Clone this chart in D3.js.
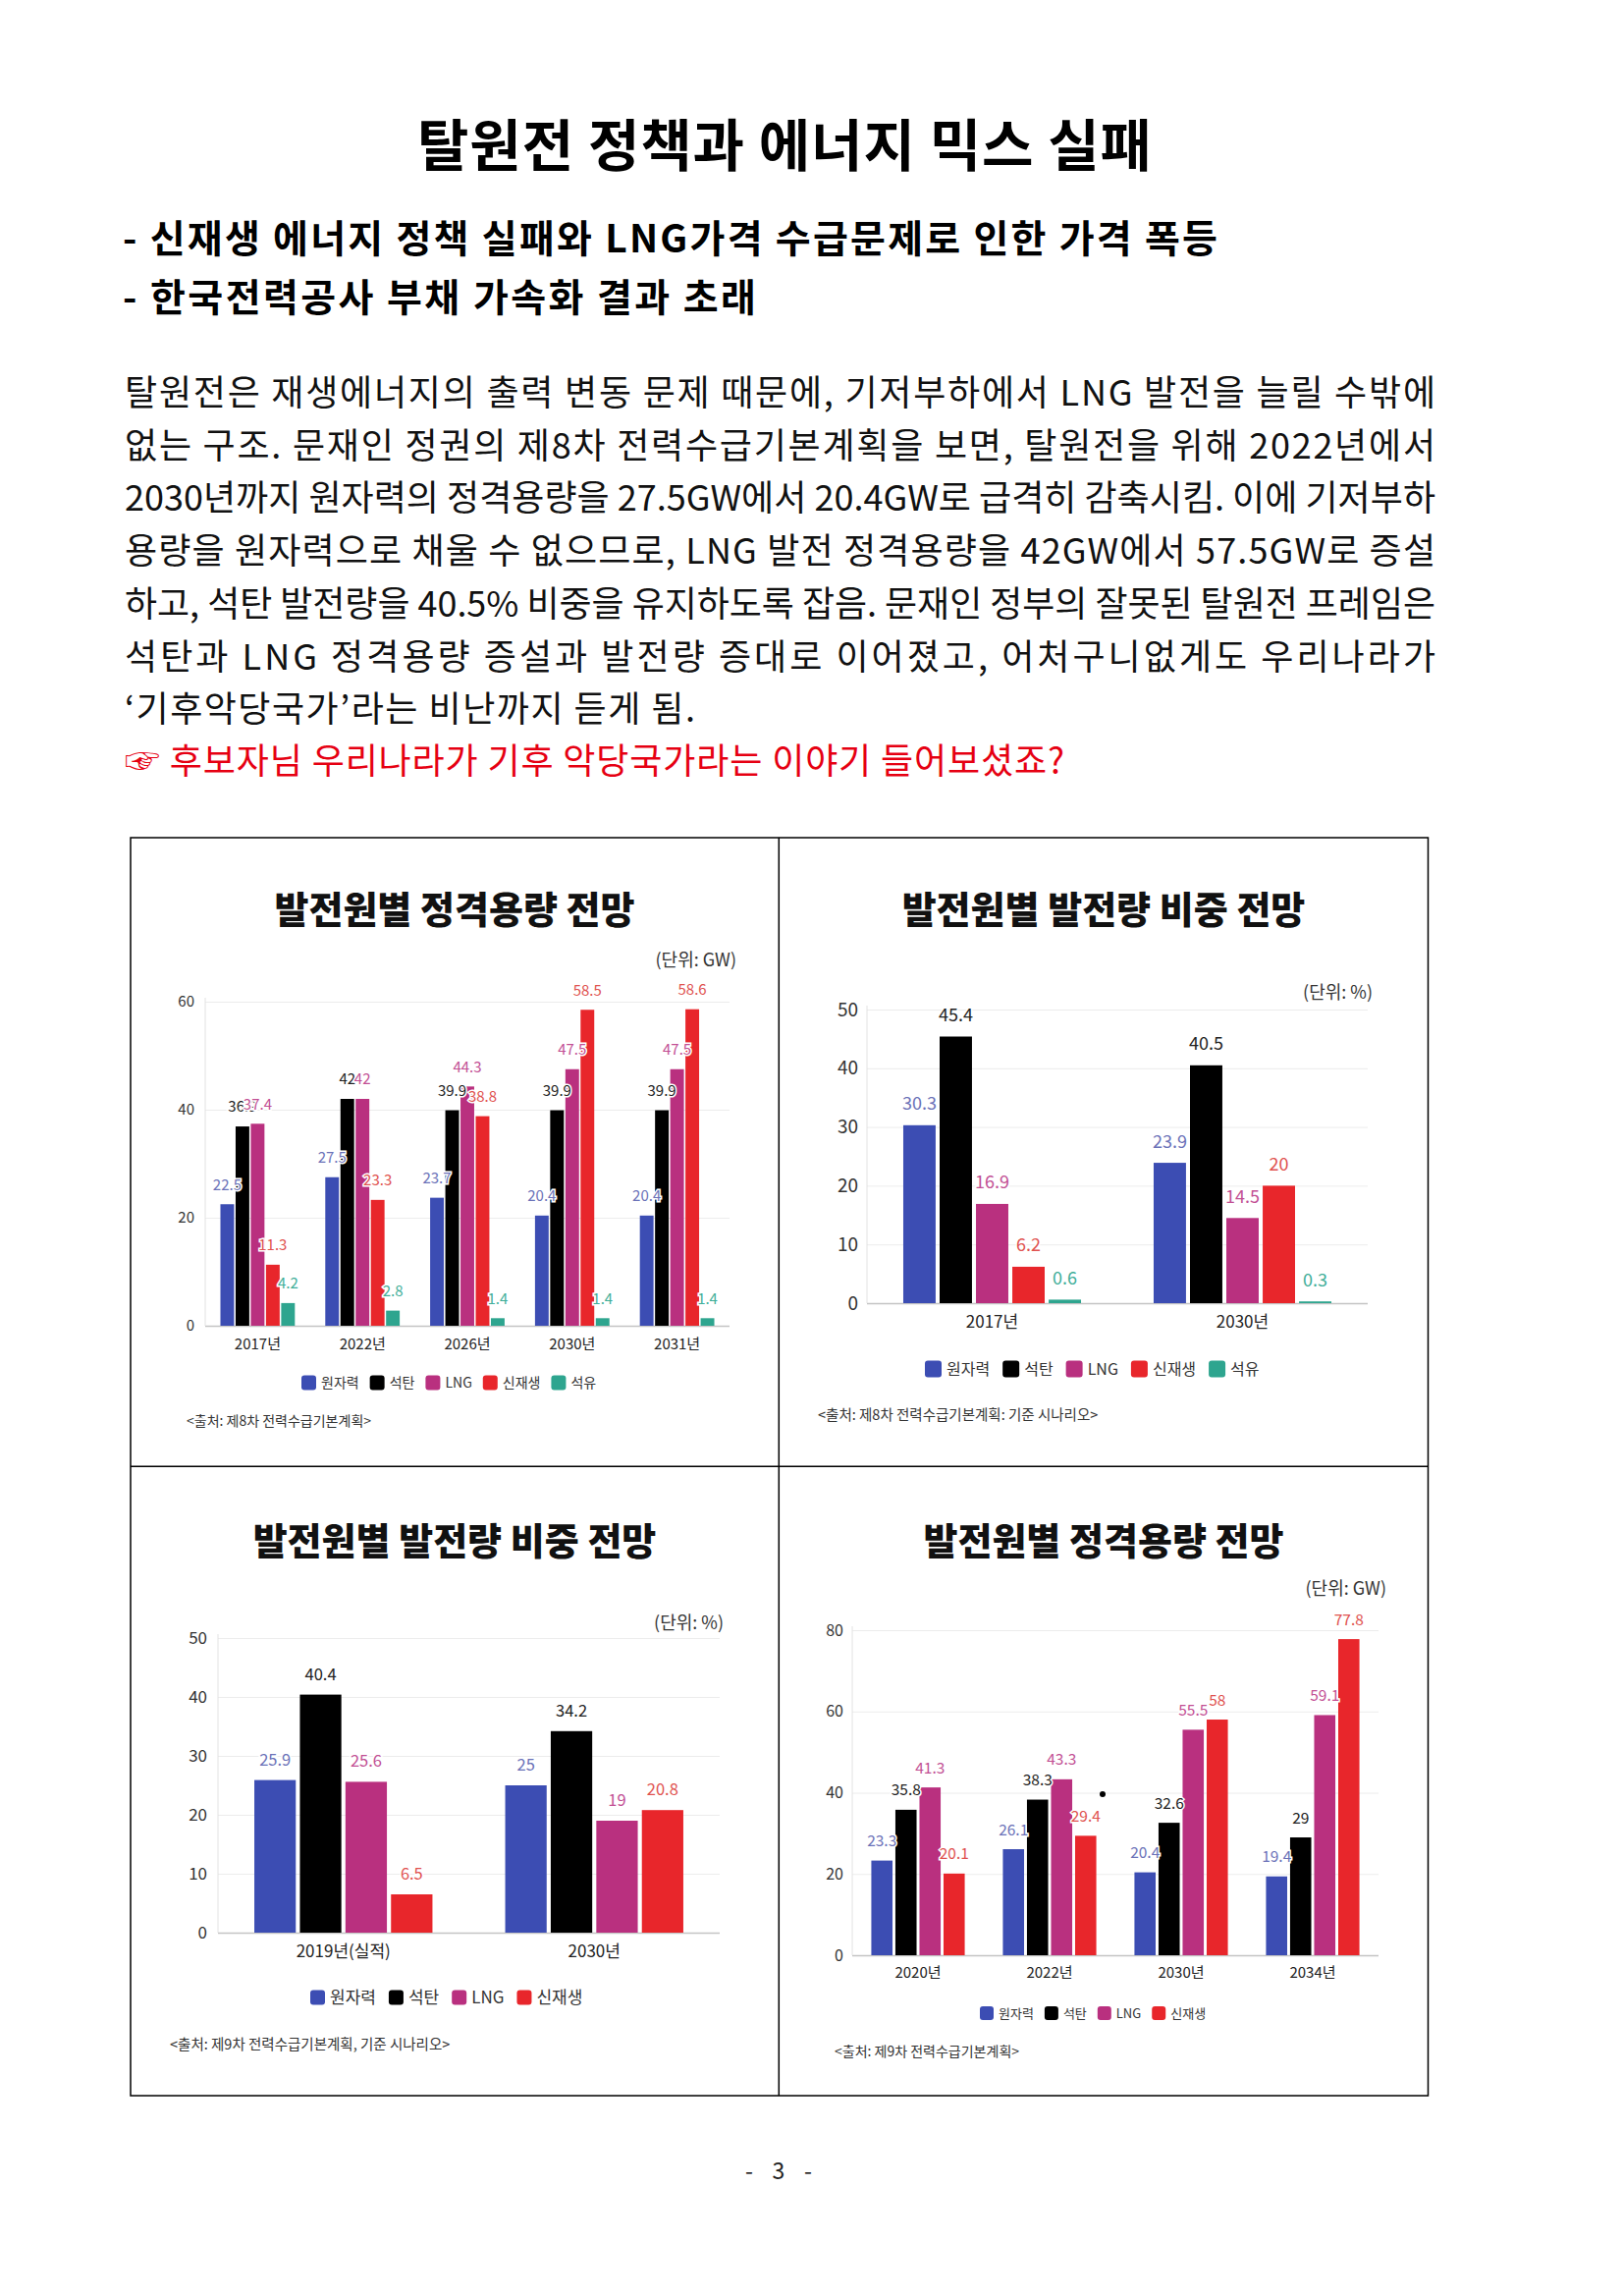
<!DOCTYPE html>
<html>
<head>
<meta charset="UTF-8">
<title>탈원전 정책과 에너지 믹스 실패</title>
<style>
  body { margin: 0; background: #fff; }
  svg text { font-family: "Noto Sans CJK KR", "Noto Sans", sans-serif; }
</style>
</head>
<body>
<script src="https://d3js.org/d3.v7.min.js"></script>
<script>
// ---- 데이터 ----
const series5 = ["원자력", "석탄", "LNG", "신재생", "석유"]
const series4 = ["원자력", "석탄", "LNG", "신재생"]

// 제8차 정격용량 (GW)
const capYears8 = ["2017년", "2022년", "2026년", "2030년", "2031년"]
const capNuke8 = [22.5, 27.5, 23.7, 20.4, 20.4]
const capCoal8 = [36.9, 42, 39.9, 39.9, 39.9]
const capLng8 = [37.4, 42, 44.3, 47.5, 47.5]
const capRenew8 = [11.3, 23.3, 38.8, 58.5, 58.6]
const capOil8 = [4.2, 2.8, 1.4, 1.4, 1.4]

// 제8차 발전량 비중 (%)
const genYears8 = ["2017년", "2030년"]
const genNuke8 = [30.3, 23.9]
const genCoal8 = [45.4, 40.5]
const genLng8 = [16.9, 14.5]
const genRenew8 = [6.2, 20]
const genOil8 = [0.6, 0.3]

// 제9차 발전량 비중 (%)
const genYears9 = ["2019년(실적)", "2030년"]
const genNuke9 = [25.9, 25]
const genCoal9 = [40.4, 34.2]
const genLng9 = [25.6, 19]
const genRenew9 = [6.5, 20.8]

// 제9차 정격용량 (GW)
const capYears9 = ["2020년", "2022년", "2030년", "2034년"]
const capNuke9 = [23.3, 26.1, 20.4, 19.4]
const capCoal9 = [35.8, 38.3, 32.6, 29]
const capLng9 = [41.3, 43.3, 55.5, 59.1]
const capRenew9 = [20.1, 29.4, 58, 77.8]

const barColors = ["#3c4db3", "#000000", "#b9307f", "#e8262b", "#2ea58f"]
const labelColors = ["#6b72b8", "#222222", "#c24f94", "#e0524f", "#3fae99"]

// 본문
const bodyLines = [
  "탈원전은 재생에너지의 출력 변동 문제 때문에, 기저부하에서 LNG 발전을 늘릴 수밖에",
  "없는 구조. 문재인 정권의 제8차 전력수급기본계획을 보면, 탈원전을 위해 2022년에서",
  "2030년까지 원자력의 정격용량을 27.5GW에서 20.4GW로 급격히 감축시킴. 이에 기저부하",
  "용량을 원자력으로 채울 수 없으므로, LNG 발전 정격용량을 42GW에서 57.5GW로 증설",
  "하고, 석탄 발전량을 40.5% 비중을 유지하도록 잡음. 문재인 정부의 잘못된 탈원전 프레임은",
  "석탄과 LNG 정격용량 증설과 발전량 증대로 이어졌고, 어처구니없게도 우리나라가",
  "‘기후악당국가’라는 비난까지 듣게 됨."
]
const redLine = "☞ 후보자님 우리나라가 기후 악당국가라는 이야기 들어보셨죠?"

var width = 1652
var height = 2338

var svg = d3.select("body").append("svg")
    .attr("width", width)
    .attr("height", height)

svg.append("rect").attr("width", width).attr("height", height).attr("fill", "#fff")

// 글자 폭 맞추기
function fitText(sel, target) {
    var n = sel.node().getComputedTextLength()
    sel.attr("textLength", target)
       .attr("lengthAdjust", n > target ? "spacingAndGlyphs" : "spacing")
}

// 제목
fitText(svg.append("text")
    .attr("x", 425).attr("y", 169)
    .attr("font-size", 57).attr("font-weight", 700)
    .text("탈원전 정책과 에너지 믹스 실패"), 748)

fitText(svg.append("text")
    .attr("x", 125).attr("y", 257)
    .attr("font-size", 39).attr("font-weight", 700)
    .text("- 신재생 에너지 정책 실패와 LNG가격 수급문제로 인한 가격 폭등"), 1115)

fitText(svg.append("text")
    .attr("x", 125).attr("y", 317)
    .attr("font-size", 39).attr("font-weight", 700)
    .text("- 한국전력공사 부채 가속화 결과 초래"), 645)

// 본문
var bodyWidths = [1335, 1335, 1335, 1335, 1335, 1335, 581]
bodyLines.forEach(function(s, i) {
    fitText(svg.append("text")
        .attr("x", 127).attr("y", 413 + i * 53.7)
        .attr("font-size", 36).attr("fill", "#111")
        .text(s), bodyWidths[i])
})
fitText(svg.append("text")
    .attr("x", 127).attr("y", 788)
    .attr("font-size", 36).attr("fill", "#e60012")
    .text(redLine), 957)

// 표 테두리
svg.append("rect")
    .attr("x", 133).attr("y", 853).attr("width", 1321.5).attr("height", 1281)
    .attr("fill", "none").attr("stroke", "#000").attr("stroke-width", 1.5)
svg.append("line").attr("x1", 793.3).attr("x2", 793.3).attr("y1", 853).attr("y2", 2134)
    .attr("stroke", "#000").attr("stroke-width", 1.5)
svg.append("line").attr("x1", 133).attr("x2", 1454.5).attr("y1", 1493.3).attr("y2", 1493.3)
    .attr("stroke", "#000").attr("stroke-width", 1.5)

// 쪽번호
fitText(svg.append("text")
    .attr("x", 759).attr("y", 2219)
    .attr("font-size", 23).attr("fill", "#222")
    .text("- 3 -"), 68)

function drawChart(cfg, cats, names, lists) {
    var g = svg.append("g")

    g.append("text")
        .attr("x", cfg.titleX).attr("y", cfg.titleY)
        .attr("text-anchor", "middle")
        .attr("font-size", 38).attr("font-weight", 900).attr("fill", "#111")
        .text(cfg.title)

    g.append("text")
        .attr("x", cfg.unitX).attr("y", cfg.unitY)
        .attr("text-anchor", "end")
        .attr("font-size", 18).attr("fill", "#333")
        .text(cfg.unit)

    var x = d3.scaleBand().domain(cats).range([cfg.x0, cfg.x1])
        .paddingInner(0.29).paddingOuter(0.145)
    var xs = d3.scaleBand().domain(names).range([0, x.bandwidth()])
        .paddingInner(cfg.inner)
    var y = d3.scaleLinear().domain([0, cfg.max]).range([cfg.y0, cfg.y1])

    // 눈금/격자
    g.append("g")
        .attr("transform", "translate(" + cfg.x0 + ",0)")
        .call(d3.axisLeft(y)
            .tickValues(d3.range(0, cfg.max + 1, cfg.step))
            .tickSize(-(cfg.x1 - cfg.x0))
            .tickPadding(cfg.tickPad))
        .call(function(a) {
            a.attr("font-family", null).attr("font-size", null)
            a.select(".domain").remove()
            a.selectAll(".tick line")
                .attr("stroke", function(d) { return d === 0 ? "#c4c4c4" : "#ececec" })
                .attr("stroke-width", function(d) { return d === 0 ? 1.5 : 1 })
            a.selectAll(".tick text")
                .attr("font-size", cfg.fsTick).attr("fill", "#333")
        })

    g.append("line")
        .attr("x1", cfg.x0).attr("x2", cfg.x0)
        .attr("y1", cfg.y1 - 4).attr("y2", cfg.y0)
        .attr("stroke", "#e2e2e2")

    // 가로축 라벨
    g.append("g")
        .attr("transform", "translate(0," + cfg.y0 + ")")
        .call(d3.axisBottom(x).tickSize(0)
            .tickPadding(cfg.xLabY - cfg.y0 - 0.71 * cfg.fsX))
        .call(function(a) {
            a.attr("font-family", null).attr("font-size", null)
            a.select(".domain").remove()
            a.selectAll(".tick text")
                .attr("font-size", cfg.fsX).attr("fill", "#222")
        })

    // 막대
    names.forEach(function(name, i) {
        g.append("g").selectAll("rect")
            .data(lists[i])
            .enter()
            .append("rect")
            .attr("fill", barColors[i])
            .attr("x", function(d, j) { return x(cats[j]) + xs(name) })
            .attr("y", function(d) { return y(d) })
            .attr("width", xs.bandwidth())
            .attr("height", function(d) { return cfg.y0 - y(d) })
    })

    // 값 라벨 (원본처럼 흰 테두리로 겹침)
    names.forEach(function(name, i) {
        g.append("g").selectAll("text")
            .data(lists[i])
            .enter()
            .append("text")
            .attr("x", function(d, j) { return x(cats[j]) + xs(name) + xs.bandwidth() / 2 })
            .attr("y", function(d) { return y(d) - cfg.labOff + 0.36 * cfg.fsVal })
            .attr("text-anchor", "middle")
            .attr("font-size", cfg.fsVal)
            .attr("fill", labelColors[i])
            .attr("stroke", "#fff").attr("stroke-width", 3)
            .attr("paint-order", "stroke")
            .text(function(d) { return d })
    })

    // 범례
    var lx = cfg.legX
    names.forEach(function(name, i) {
        g.append("rect")
            .attr("x", lx).attr("y", cfg.legY - cfg.sq / 2)
            .attr("width", cfg.sq).attr("height", cfg.sq)
            .attr("rx", 3).attr("fill", barColors[i])
        var t = g.append("text")
            .attr("x", lx + cfg.sq + 5).attr("y", cfg.legY + 0.36 * cfg.fsLeg)
            .attr("font-size", cfg.fsLeg).attr("fill", "#333")
            .text(name)
        lx += cfg.sq + 5 + t.node().getComputedTextLength() + cfg.legGap
    })

    g.append("text")
        .attr("x", cfg.srcX).attr("y", cfg.srcY)
        .attr("font-size", cfg.fsSrc).attr("fill", "#333")
        .text(cfg.src)

    return g
}

drawChart({
    title: "발전원별 정격용량 전망", titleX: 463, titleY: 940,
    unit: "(단위: GW)", unitX: 750, unitY: 984,
    x0: 209, x1: 743, y0: 1350, y1: 1020, max: 60, step: 20, inner: 0.1,
    tickPad: 11, fsTick: 15, fsX: 15, xLabY: 1374, fsVal: 15, labOff: 20,
    legX: 307, legY: 1408, sq: 15, fsLeg: 14, legGap: 11,
    src: "<출처: 제8차 전력수급기본계획>", srcX: 190, srcY: 1452, fsSrc: 14
}, capYears8, series5, [capNuke8, capCoal8, capLng8, capRenew8, capOil8])

drawChart({
    title: "발전원별 발전량 비중 전망", titleX: 1124, titleY: 940,
    unit: "(단위: %)", unitX: 1398, unitY: 1017,
    x0: 883, x1: 1393, y0: 1327, y1: 1028, max: 50, step: 10, inner: 0.11,
    tickPad: 9, fsTick: 19, fsX: 17, xLabY: 1352, fsVal: 18, labOff: 22,
    legX: 942, legY: 1394, sq: 17, fsLeg: 16, legGap: 13,
    src: "<출처: 제8차 전력수급기본계획: 기준 시나리오>", srcX: 833, srcY: 1446, fsSrc: 14.5
}, genYears8, series5, [genNuke8, genCoal8, genLng8, genRenew8, genOil8])

drawChart({
    title: "발전원별 발전량 비중 전망", titleX: 463, titleY: 1583,
    unit: "(단위: %)", unitX: 737, unitY: 1659,
    x0: 222, x1: 733, y0: 1968, y1: 1668, max: 50, step: 10, inner: 0.09,
    tickPad: 11, fsTick: 17, fsX: 17, xLabY: 1993, fsVal: 16.5, labOff: 21,
    legX: 316, legY: 2034, sq: 15, fsLeg: 17, legGap: 13,
    src: "<출처: 제9차 전력수급기본계획, 기준 시나리오>", srcX: 173, srcY: 2087, fsSrc: 14.5
}, genYears9, series4, [genNuke9, genCoal9, genLng9, genRenew9])

var g4 = drawChart({
    title: "발전원별 정격용량 전망", titleX: 1124, titleY: 1583,
    unit: "(단위: GW)", unitX: 1412, unitY: 1624,
    x0: 868, x1: 1404, y0: 1991, y1: 1660, max: 80, step: 20, inner: 0.12,
    tickPad: 9, fsTick: 16, fsX: 15, xLabY: 2014, fsVal: 15.5, labOff: 20,
    legX: 998, legY: 2050, sq: 14, fsLeg: 13, legGap: 11,
    src: "<출처: 제9차 전력수급기본계획>", srcX: 850, srcY: 2094, fsSrc: 14
}, capYears9, series4, [capNuke9, capCoal9, capLng9, capRenew9])

// 원본 그림에 찍힌 점
g4.append("circle").attr("cx", 1123).attr("cy", 1827).attr("r", 3).attr("fill", "#000")
</script>
</body>
</html>
